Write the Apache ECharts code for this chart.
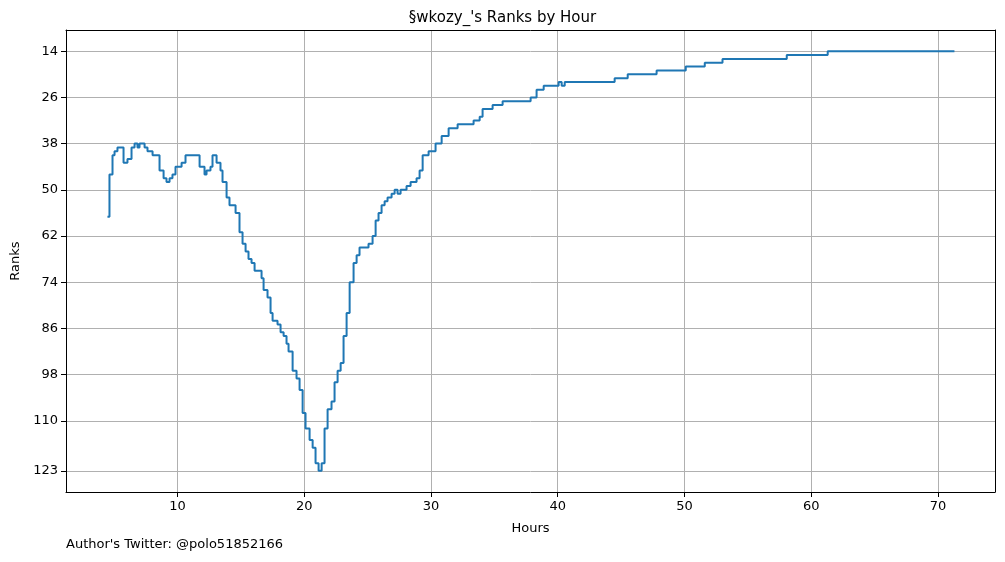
<!DOCTYPE html>
<html>
<head>
<meta charset="utf-8">
<script src="https://cdn.jsdelivr.net/npm/echarts@6/dist/echarts.min.js"></script>
<style>html,body{margin:0;padding:0;background:#fff}#chart{width:1005px;height:562px}</style>
</head>
<body>
<div id="chart"></div>
<script>
// hours at which the rank changes, and the rank from that hour on
const hours = [4.47, 4.63, 4.87, 5.03, 5.26, 5.74, 6.05, 6.37, 6.61, 6.84, 7.0, 7.4, 7.63, 8.03, 8.58, 8.9, 9.13, 9.37, 9.6, 9.84, 10.32, 10.63,
  11.74, 12.13, 12.29, 12.6, 12.76, 13.08, 13.39, 13.55, 13.87, 14.1, 14.58, 14.89, 15.13, 15.37, 15.6, 15.84, 16.08, 16.63, 16.79, 17.1, 17.34, 17.5, 17.89,
  18.13, 18.37, 18.6, 18.76, 19.08, 19.39, 19.63, 19.87, 20.1, 20.42, 20.66, 20.89, 21.13, 21.37, 21.6, 21.84, 22.15, 22.39, 22.63, 22.87, 23.1, 23.34,
  23.58, 23.89, 24.13, 24.36, 25.07, 25.39, 25.63, 25.86, 26.1, 26.34, 26.57, 26.89, 27.13, 27.36, 27.6, 28.07, 28.39, 28.86, 29.1, 29.34, 29.81, 30.36,
  30.84, 31.39, 32.1, 33.36, 33.84, 34.07, 34.86, 35.65, 37.86, 38.33, 38.89, 40.07, 40.31, 40.55, 44.49, 45.52, 47.8, 50.1, 51.6, 53.0, 58.07, 61.3, 71.3];
const ranks = [57, 46, 41, 40, 39, 43, 42, 39, 38, 39, 38, 39, 40, 41, 45, 47, 48, 47, 46, 44, 43, 41,
  44, 46, 45, 44, 41, 43, 45, 48, 52, 54, 56, 61, 64, 66, 68, 69, 71, 73, 76, 78, 82, 84, 85,
  87, 88, 90, 92, 97, 99, 102, 108, 112, 115, 117, 121, 123, 121, 112, 107, 105, 100, 97, 95, 88, 82,
  74, 69, 67, 65, 64, 62, 58, 56, 54, 53, 52, 51, 50, 51, 50, 49, 48, 47, 45, 41, 40, 38,
  36, 34, 33, 32, 31, 29, 28, 27, 26, 24, 23, 22, 23, 22, 21, 20, 19, 18, 17, 16, 15, 14, 14];
const xTicks = [10, 20, 30, 40, 50, 60, 70];
const yTicks = [14, 26, 38, 50, 62, 74, 86, 98, 110, 123];

const chart = echarts.init(document.getElementById('chart'));
const font = 'DejaVu Sans';
const frame = { show: true, lineStyle: { color: '#000' } };
chart.setOption({
  animation: false,
  textStyle: { fontFamily: font },
  title: { text: "§wkozy_'s Ranks by Hour", left: 'center', top: 6,
    textStyle: { fontSize: 15, fontWeight: 'normal', color: '#000', fontFamily: font } },
  graphic: [{ type: 'text', left: 66, top: 538,
    style: { text: "Author's Twitter: @polo51852166", fontSize: 13, fill: '#000', fontFamily: font } }],
  grid: { left: 66, right: 10, top: 30, bottom: 70 },
  xAxis: [{
    type: 'value', min: 1.2, max: 74.5,
    name: 'Hours', nameLocation: 'middle', nameGap: 30,
    nameTextStyle: { fontSize: 13, color: '#000' },
    axisLine: frame,
    axisTick: { customValues: xTicks, lineStyle: { color: '#000' } },
    axisLabel: { customValues: xTicks, fontSize: 13, color: '#000' },
    splitLine: { show: true, lineStyle: { color: '#b0b0b0' } }
  }, {
    type: 'value', position: 'top', min: 1.2, max: 74.5,
    axisLine: frame, axisTick: { show: false }, axisLabel: { show: false }, splitLine: { show: false }
  }],
  yAxis: [{
    type: 'value', inverse: true, min: 8.5, max: 128.5,
    name: 'Ranks', nameLocation: 'middle', nameGap: 44,
    nameTextStyle: { fontSize: 13, color: '#000' },
    axisLine: frame,
    axisTick: { show: true, customValues: yTicks, lineStyle: { color: '#000' } },
    axisLabel: { customValues: yTicks, fontSize: 13, color: '#000' },
    splitLine: { show: true, lineStyle: { color: '#b0b0b0' } }
  }, {
    type: 'value', position: 'right', inverse: true, min: 8.5, max: 128.5,
    axisLine: frame, axisTick: { show: false }, axisLabel: { show: false }, splitLine: { show: false }
  }],
  series: [{
    type: 'line', step: 'end', symbol: 'none',
    data: hours.map((h, i) => [h, ranks[i]]),
    lineStyle: { color: '#1f77b4', width: 2 }
  }]
});
</script>
</body>
</html>
